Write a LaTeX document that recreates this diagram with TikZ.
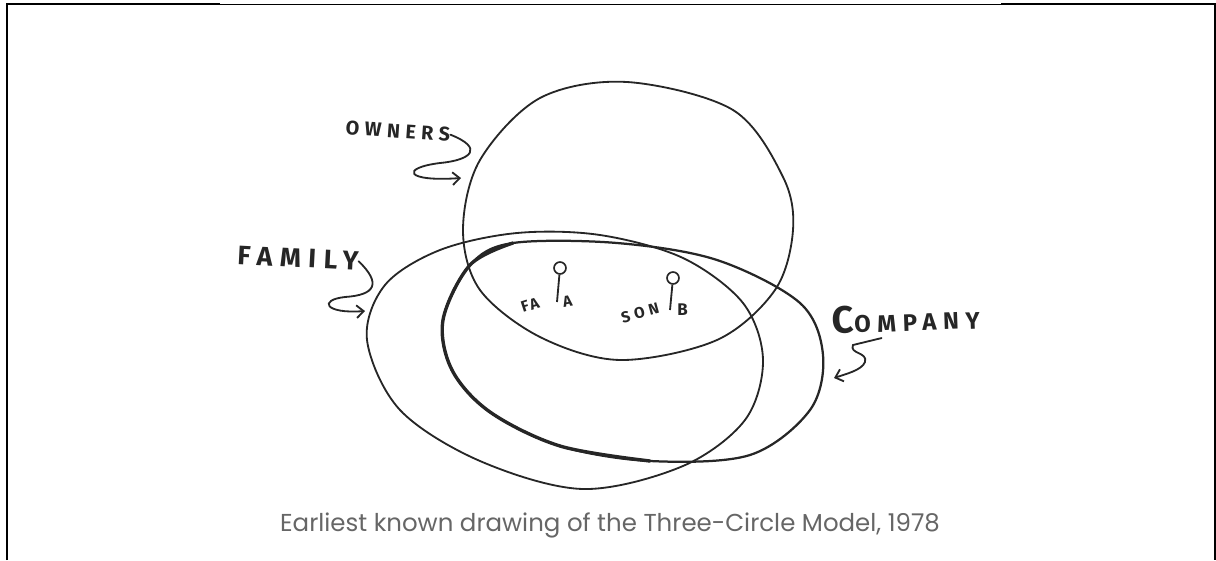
\documentclass[tikz,border=0pt]{standalone}
\usepackage{fontspec}
\newfontfamily\capfont{Poppins}
\newfontfamily\handfont[LetterSpace=28]{Fira Sans}
\usetikzlibrary{arrows.meta, positioning}

\begin{document}
\begin{tikzpicture}[
      x=0.025cm, y=-0.025cm,
      loop/.style={line width=1.3pt, black!85, line join=round},
      boldloop/.style={line width=2.4pt, black!85, line cap=round},
      hand/.style={font=\handfont\bfseries, text=black!85, inner sep=0pt},
      curl/.style={line width=1.3pt, black!85, line cap=round, -{Straight Barb[length=5pt, width=9pt]}},
      blob/.style={circle, draw=black!85, line width=1.2pt, minimum size=8.5pt, inner sep=0pt},
      caption/.style={font=\capfont\fontsize{17.4}{20}\selectfont, text=black!60}
   ]
      \useasboundingbox (0,0) rectangle (1216,560);
      \draw[line width=1.4pt] (7,560) -- (7,4) -- (220,4);
      \draw[line width=0.7pt] (220,4) -- (1001,4);
      \draw[line width=1.4pt] (1001,4) -- (1215,4) -- (1215,560);

      \draw[loop] plot[smooth cycle, tension=0.55] coordinates {
         (627,82) (733,110) (783,177) (793,230) (775,290) (717,340) (620,360)
         (540,337) (480,290) (463,230) (480,160) (540,98)};
      \draw[loop] plot[smooth cycle, tension=0.55] coordinates {
         (367,340) (385,285) (440,250) (517,233) (600,235) (683,258) (743,303)
         (763,360) (745,420) (683,466) (583,489) (480,461) (400,410)};
      \draw[loop, line width=1.6pt] plot[smooth cycle, tension=0.55] coordinates {
         (513,243) (617,243) (717,260) (800,303) (823,355) (810,410) (750,455)
         (650,461) (560,446) (490,412) (452,370) (443,320) (470,265)};
      \draw[boldloop] plot[smooth, tension=0.55] coordinates {
         (513,243) (470,265) (443,320) (452,370) (490,412) (560,446) (650,461)};

      \node[hand, font=\handfont\bfseries\fontsize{14}{14}\selectfont, rotate=-4] (owners) at (398,131) {OWNERS};
      \node[hand, font=\handfont\bfseries\fontsize{19}{19}\selectfont, rotate=-3] (family) at (298,258) {FAMILY};
      \node[hand, rotate=2] (company) at (906,318)
         {{\fontsize{27}{27}\selectfont C}{\fontsize{17}{17}\selectfont OMPANY}};

      \coordinate (ownersin) at (461,178);
      \coordinate (familyin) at (365,311);
      \coordinate (companyin) at (834,378);
      \draw[curl] (owners.east) .. controls (484,148) and (472,160) .. (440,163)
         .. controls (400,168) and (405,182) .. (ownersin);
      \draw[curl] (family.east) .. controls (382,284) and (375,295) .. (345,297)
         .. controls (318,300) and (325,314) .. (familyin);
      \draw[curl] (company.south) ++(-25,6) -- (853,345)
         .. controls (849,354) and (868,352) .. (865,362)
         .. controls (862,370) and (846,374) .. (companyin);

      \node[blob] (fa) at (560,268) {};
      \coordinate (faleg) at (557,302);
      \draw[line width=1.3pt, black!85] (fa) -- (faleg);
      \node[blob] (son) at (673,278) {};
      \coordinate (sonleg) at (670,310);
      \draw[line width=1.3pt, black!85] (son) -- (sonleg);

      \node[hand, font=\handfont\bfseries\fontsize{11}{11}\selectfont, rotate=18] (falbl) at (530,305) {F\kern1ptA};
      \node[hand, font=\handfont\bfseries\fontsize{11}{11}\selectfont, rotate=10, right=4pt of faleg] (alpha) {A};
      \node[hand, font=\handfont\bfseries\fontsize{11}{11}\selectfont, rotate=15] (sonlbl) at (640,313) {SON};
      \node[hand, font=\handfont\bfseries\fontsize{12}{12}\selectfont, right=5pt of sonleg] (beta) {B};

      \node[caption] (cap) at (610,525) {Earliest known drawing of the Three-Circle Model, 1978};
   \end{tikzpicture}
\end{document}
